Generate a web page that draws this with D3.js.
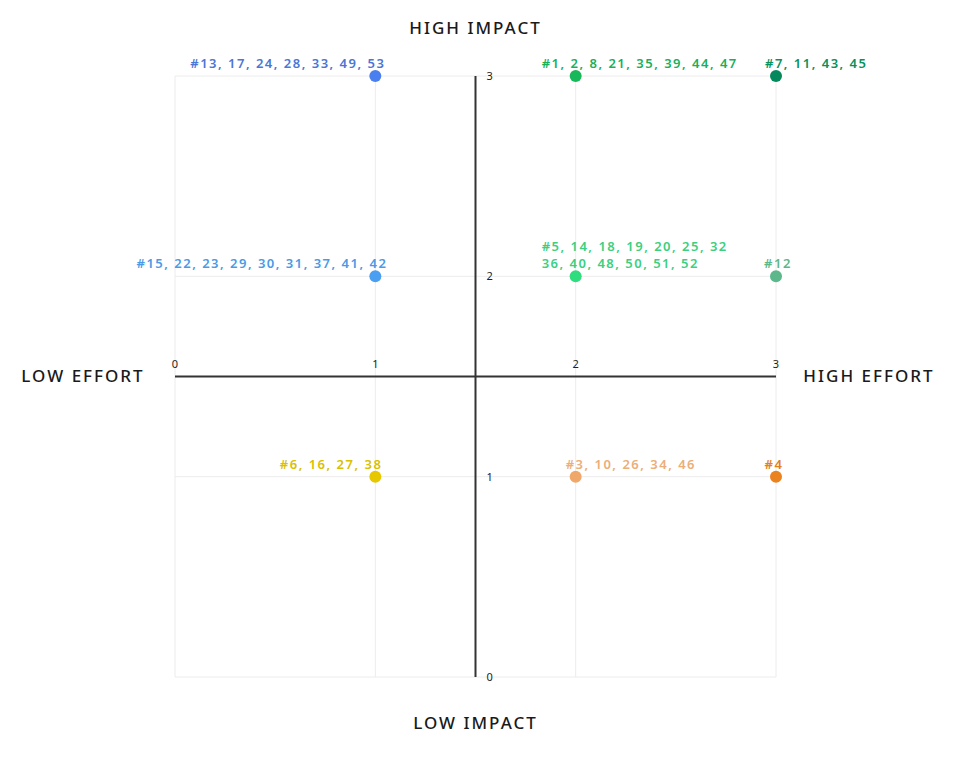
<!DOCTYPE html>
<html>
<head>
<meta charset="utf-8">
<script src="https://cdn.jsdelivr.net/npm/d3@7"></script>
<style>
  body { margin:0; background:#fff; font-family:"Noto Sans","Open Sans",sans-serif; }
</style>
</head>
<body>
<script>

// effort (x), impact (y) and the items sitting at that spot
var effort = [1, 1, 2, 3, 2, 3, 1, 2, 3];
var impact = [3, 2, 3, 3, 2, 2, 1, 1, 1];
var labels = [
  ["#13, 17, 24, 28, 33, 49, 53"],
  ["#15, 22, 23, 29, 30, 31, 37, 41, 42"],
  ["#1, 2, 8, 21, 35, 39, 44, 47"],
  ["#7, 11, 43, 45"],
  ["#5, 14, 18, 19, 20, 25, 32", "36, 40, 48, 50, 51, 52"],
  ["#12"],
  ["#6, 16, 27, 38"],
  ["#3, 10, 26, 34, 46"],
  ["#4"]
];
var dotColors  = ["#4a7ff0", "#4a9ff2", "#17b85a", "#05895c", "#2fdc7e", "#5cb88a", "#e6c700", "#f0a86a", "#ea821f"];
var textColors = ["#4a76d6", "#4a9ae6", "#1aaf5a", "#07915e", "#3ccf80", "#5cb88a", "#d9c000", "#ecae78", "#e0801e"];
var labelAnchor = ["end", "end", "start", "start", "start", "middle", "end", "start", "middle"];
var labelShift  = [10, 12, -34, -11, -34, 2, 7, -10, -2];

var ticks = [0, 1, 2, 3];

var width = 960, height = 764;
var svg = d3.select("body").append("svg")
    .attr("width", width)
    .attr("height", height);

var xScale = d3.scaleLinear().domain([0, 3]).range([175, 776]);
var yScale = d3.scaleLinear().domain([0, 3]).range([677, 76]);

// light grid
svg.append("g").selectAll("line")
  .data(ticks).enter().append("line")
  .attr("x1", function(d){return xScale(d);})
  .attr("x2", function(d){return xScale(d);})
  .attr("y1", yScale(0)).attr("y2", yScale(3))
  .attr("stroke", "#ececec");
svg.append("g").selectAll("line")
  .data(ticks).enter().append("line")
  .attr("y1", function(d){return yScale(d);})
  .attr("y2", function(d){return yScale(d);})
  .attr("x1", xScale(0)).attr("x2", xScale(3))
  .attr("stroke", "#ececec");

// center axes
svg.append("line")
  .attr("x1", xScale(0)).attr("x2", xScale(3))
  .attr("y1", yScale(1.5)).attr("y2", yScale(1.5))
  .attr("stroke", "#333").attr("stroke-width", 2);
svg.append("line")
  .attr("x1", xScale(1.5)).attr("x2", xScale(1.5))
  .attr("y1", yScale(0)).attr("y2", yScale(3))
  .attr("stroke", "#333").attr("stroke-width", 2);

// tick labels
svg.append("g").selectAll("text")
  .data(ticks).enter().append("text")
  .attr("x", function(d){return xScale(d);})
  .attr("y", yScale(1.5) - 9)
  .attr("text-anchor", "middle")
  .attr("font-size", 11)
  .attr("fill", "#222")
  .text(function(d){return d;});
svg.append("g").selectAll("text")
  .data(ticks).enter().append("text")
  .attr("x", xScale(1.5) + 11)
  .attr("y", function(d){return yScale(d);})
  .attr("dy", "0.35em")
  .attr("font-size", 11)
  .attr("fill", "#222")
  .text(function(d){return d;});

// quadrant captions
var caption = function(x, y, txt, anchor) {
  svg.append("text")
    .attr("x", x).attr("y", y)
    .attr("dy", "0.35em")
    .attr("text-anchor", anchor)
    .attr("font-size", 17)
    .attr("font-weight", 500)
    .attr("letter-spacing", 2)
    .attr("fill", "#1a1a1a")
    .text(txt);
};
caption(xScale(1.5), 28, "HIGH IMPACT", "middle");
caption(xScale(1.5), 723, "LOW IMPACT", "middle");
caption(83, yScale(1.5), "LOW EFFORT", "middle");
caption(869, yScale(1.5), "HIGH EFFORT", "middle");

// points
var idx = d3.range(effort.length);
svg.append("g").selectAll("circle")
  .data(idx).enter().append("circle")
  .attr("cx", function(i){return xScale(effort[i]);})
  .attr("cy", function(i){return yScale(impact[i]);})
  .attr("r", 6)
  .attr("fill", function(i){return dotColors[i];});

// point labels
var lab = svg.append("g").selectAll("text")
  .data(idx).enter().append("text")
  .attr("x", function(i){return xScale(effort[i]) + labelShift[i];})
  .attr("y", function(i){return yScale(impact[i]) - 8 - (labels[i].length - 1) * 17;})
  .attr("text-anchor", function(i){return labelAnchor[i];})
  .attr("font-size", 13)
  .attr("font-weight", 600)
  .attr("letter-spacing", 1.5)
  .attr("fill", function(i){return textColors[i];});
lab.selectAll("tspan")
  .data(function(i){return labels[i].map(function(t){return {t:t, i:i};});})
  .enter().append("tspan")
  .attr("x", function(d){return xScale(effort[d.i]) + labelShift[d.i];})
  .attr("dy", function(d, j){return j === 0 ? 0 : 17;})
  .text(function(d){return d.t;});

</script>
</body>
</html>
